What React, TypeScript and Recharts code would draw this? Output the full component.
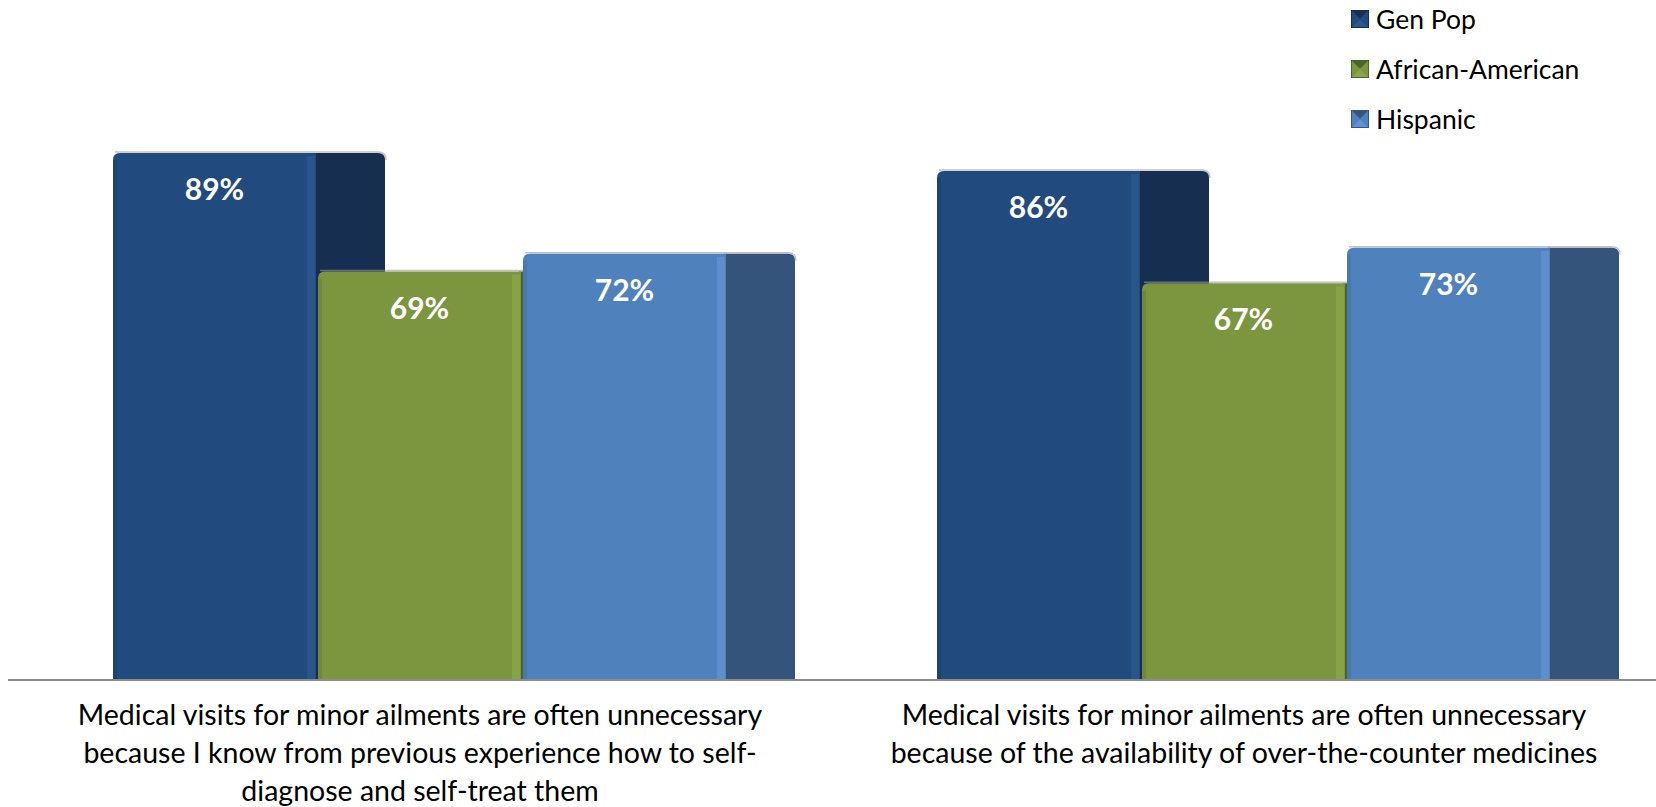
import React from "react";
import { BarChart, Bar, XAxis, YAxis, LabelList } from "recharts";

// category labels, one entry per line
const categoryLines = [
  [
    "Medical visits for minor ailments are often unnecessary",
    "because I know from previous experience how to self-",
    "diagnose and self-treat them",
  ],
  [
    "Medical visits for minor ailments are often unnecessary",
    "because of the availability of over-the-counter medicines",
  ],
];
const seriesNames = ["Gen Pop", "African-American", "Hispanic"];
const genPop = [89, 86];
const africanAmerican = [69, 67];
const hispanic = [72, 73];

const data = categoryLines.map((lines, i) => ({
  name: lines.join("\n"),
  genPop: genPop[i],
  africanAmerican: africanAmerican[i],
  hispanic: hispanic[i],
}));

const FONT = "Lato, 'Open Sans', sans-serif";

const palette = {
  genPop: { front: "#214a7e", side: "#162e50", edge: "#2c5890", shade: "#1b4070" },
  africanAmerican: { front: "#7b963f", side: "#4f6228", edge: "#89a64a", shade: "#6d8636" },
  hispanic: { front: "#4f81bd", side: "#34547b", edge: "#5f92d0", shade: "#4675ad" },
};

const SIDE = 69;

const makeBarShape = (c: { front: string; side: string; edge: string; shade: string }) => (props: any) => {
  const { x, y, width, height } = props;
  if (!height || height <= 0) return null;
  const face = width - 2;
  const r = 7;
  const sx = x + face - 2;
  const ex = x + face + SIDE;
  const sidePath = `M${sx},${y} H${ex - r} Q${ex},${y} ${ex},${y + r} V${y + height} H${sx} Z`;
  const frontPath = `M${x},${y + height} V${y + r} Q${x},${y} ${x + r},${y} H${x + face} V${y + height} Z`;
  return (
    <g>
      <path d={`M${x + 2},${y - 1} H${ex - r} Q${ex + 1},${y - 1} ${ex + 1},${y + r}`} stroke="#999" strokeOpacity={0.6} fill="none" strokeWidth={1.5} />
      <path d={sidePath} fill={c.side} />
      <path d={frontPath} fill={c.front} />
      <rect x={x + face - 9} y={y + 3} width={8} height={height - 3} fill={c.edge} opacity={0.8} />
      <rect x={x} y={y + r} width={4} height={height - r} fill={c.shade} opacity={0.8} />
    </g>
  );
};

const ValueLabel = (props: any) => {
  const { x, y, width, value } = props;
  return (
    <text
      x={x + (width - 2) / 2}
      y={y + 47}
      textAnchor="middle"
      fill="#ffffff"
      fontFamily={FONT}
      fontWeight={700}
      fontSize={30}
    >
      {value}%
    </text>
  );
};

const CategoryTick = (props: any) => {
  const { x, y, payload } = props;
  const lines = String(payload.value).split("\n");
  return (
    <text x={x} y={y + 45} textAnchor="middle" fill="#000" fontFamily={FONT} fontSize={28.5}>
      {lines.map((line, i) => (
        <tspan key={i} x={x} dy={i === 0 ? 0 : 38}>
          {line}
        </tspan>
      ))}
    </text>
  );
};

const legendColors = [palette.genPop, palette.africanAmerican, palette.hispanic];

const BevelIcon = ({ c }: { c: { front: string; side: string; edge: string } }) => (
  <svg width={18} height={18} style={{ display: "block" }}>
    <rect x={0} y={0} width={18} height={18} fill={c.front} />
    <polygon points="0,0 18,0 9,9" fill={c.side} />
    <polygon points="0,18 18,18 9,9" fill={c.edge} />
    <polygon points="0,0 0,18 9,9" fill={c.front} />
    <polygon points="18,0 18,18 9,9" fill={c.front} />
    <rect x={0.5} y={0.5} width={17} height={17} fill="none" stroke={c.side} strokeWidth={1} />
  </svg>
);

const ChartLegend = () => (
  <div style={{ position: "absolute", left: 1351, top: -6, fontFamily: FONT, fontSize: 26.5, color: "#000" }}>
    {seriesNames.map((name, i) => (
      <div key={name} style={{ display: "flex", alignItems: "center", height: 50 }}>
        <BevelIcon c={legendColors[i]} />
        <span style={{ marginLeft: 7 }}>{name}</span>
      </div>
    ))}
  </div>
);

export default function App() {
  return (
    <div style={{ position: "absolute", left: 0, top: 0, width: 1656, height: 807, background: "#fff", overflow: "hidden" }}>
      <BarChart
        width={1656}
        height={807}
        data={data}
        margin={{ top: 88, right: 0, bottom: 0, left: 8 }}
        barCategoryGap={105}
        barGap={0}
      >
        <XAxis
          dataKey="name"
          height={127}
          tickLine={false}
          tickSize={0}
          tickMargin={0}
          interval={0}
          axisLine={{ stroke: "#8c8c8c", strokeWidth: 2 }}
          tick={<CategoryTick />}
        />
        <YAxis hide domain={[0, 100]} />
        <Bar dataKey="genPop" name={seriesNames[0]} isAnimationActive={false} shape={makeBarShape(palette.genPop)}>
          <LabelList dataKey="genPop" content={<ValueLabel />} />
        </Bar>
        <Bar dataKey="africanAmerican" name={seriesNames[1]} isAnimationActive={false} shape={makeBarShape(palette.africanAmerican)}>
          <LabelList dataKey="africanAmerican" content={<ValueLabel />} />
        </Bar>
        <Bar dataKey="hispanic" name={seriesNames[2]} isAnimationActive={false} shape={makeBarShape(palette.hispanic)}>
          <LabelList dataKey="hispanic" content={<ValueLabel />} />
        </Bar>
      </BarChart>
      <ChartLegend />
    </div>
  );
}
